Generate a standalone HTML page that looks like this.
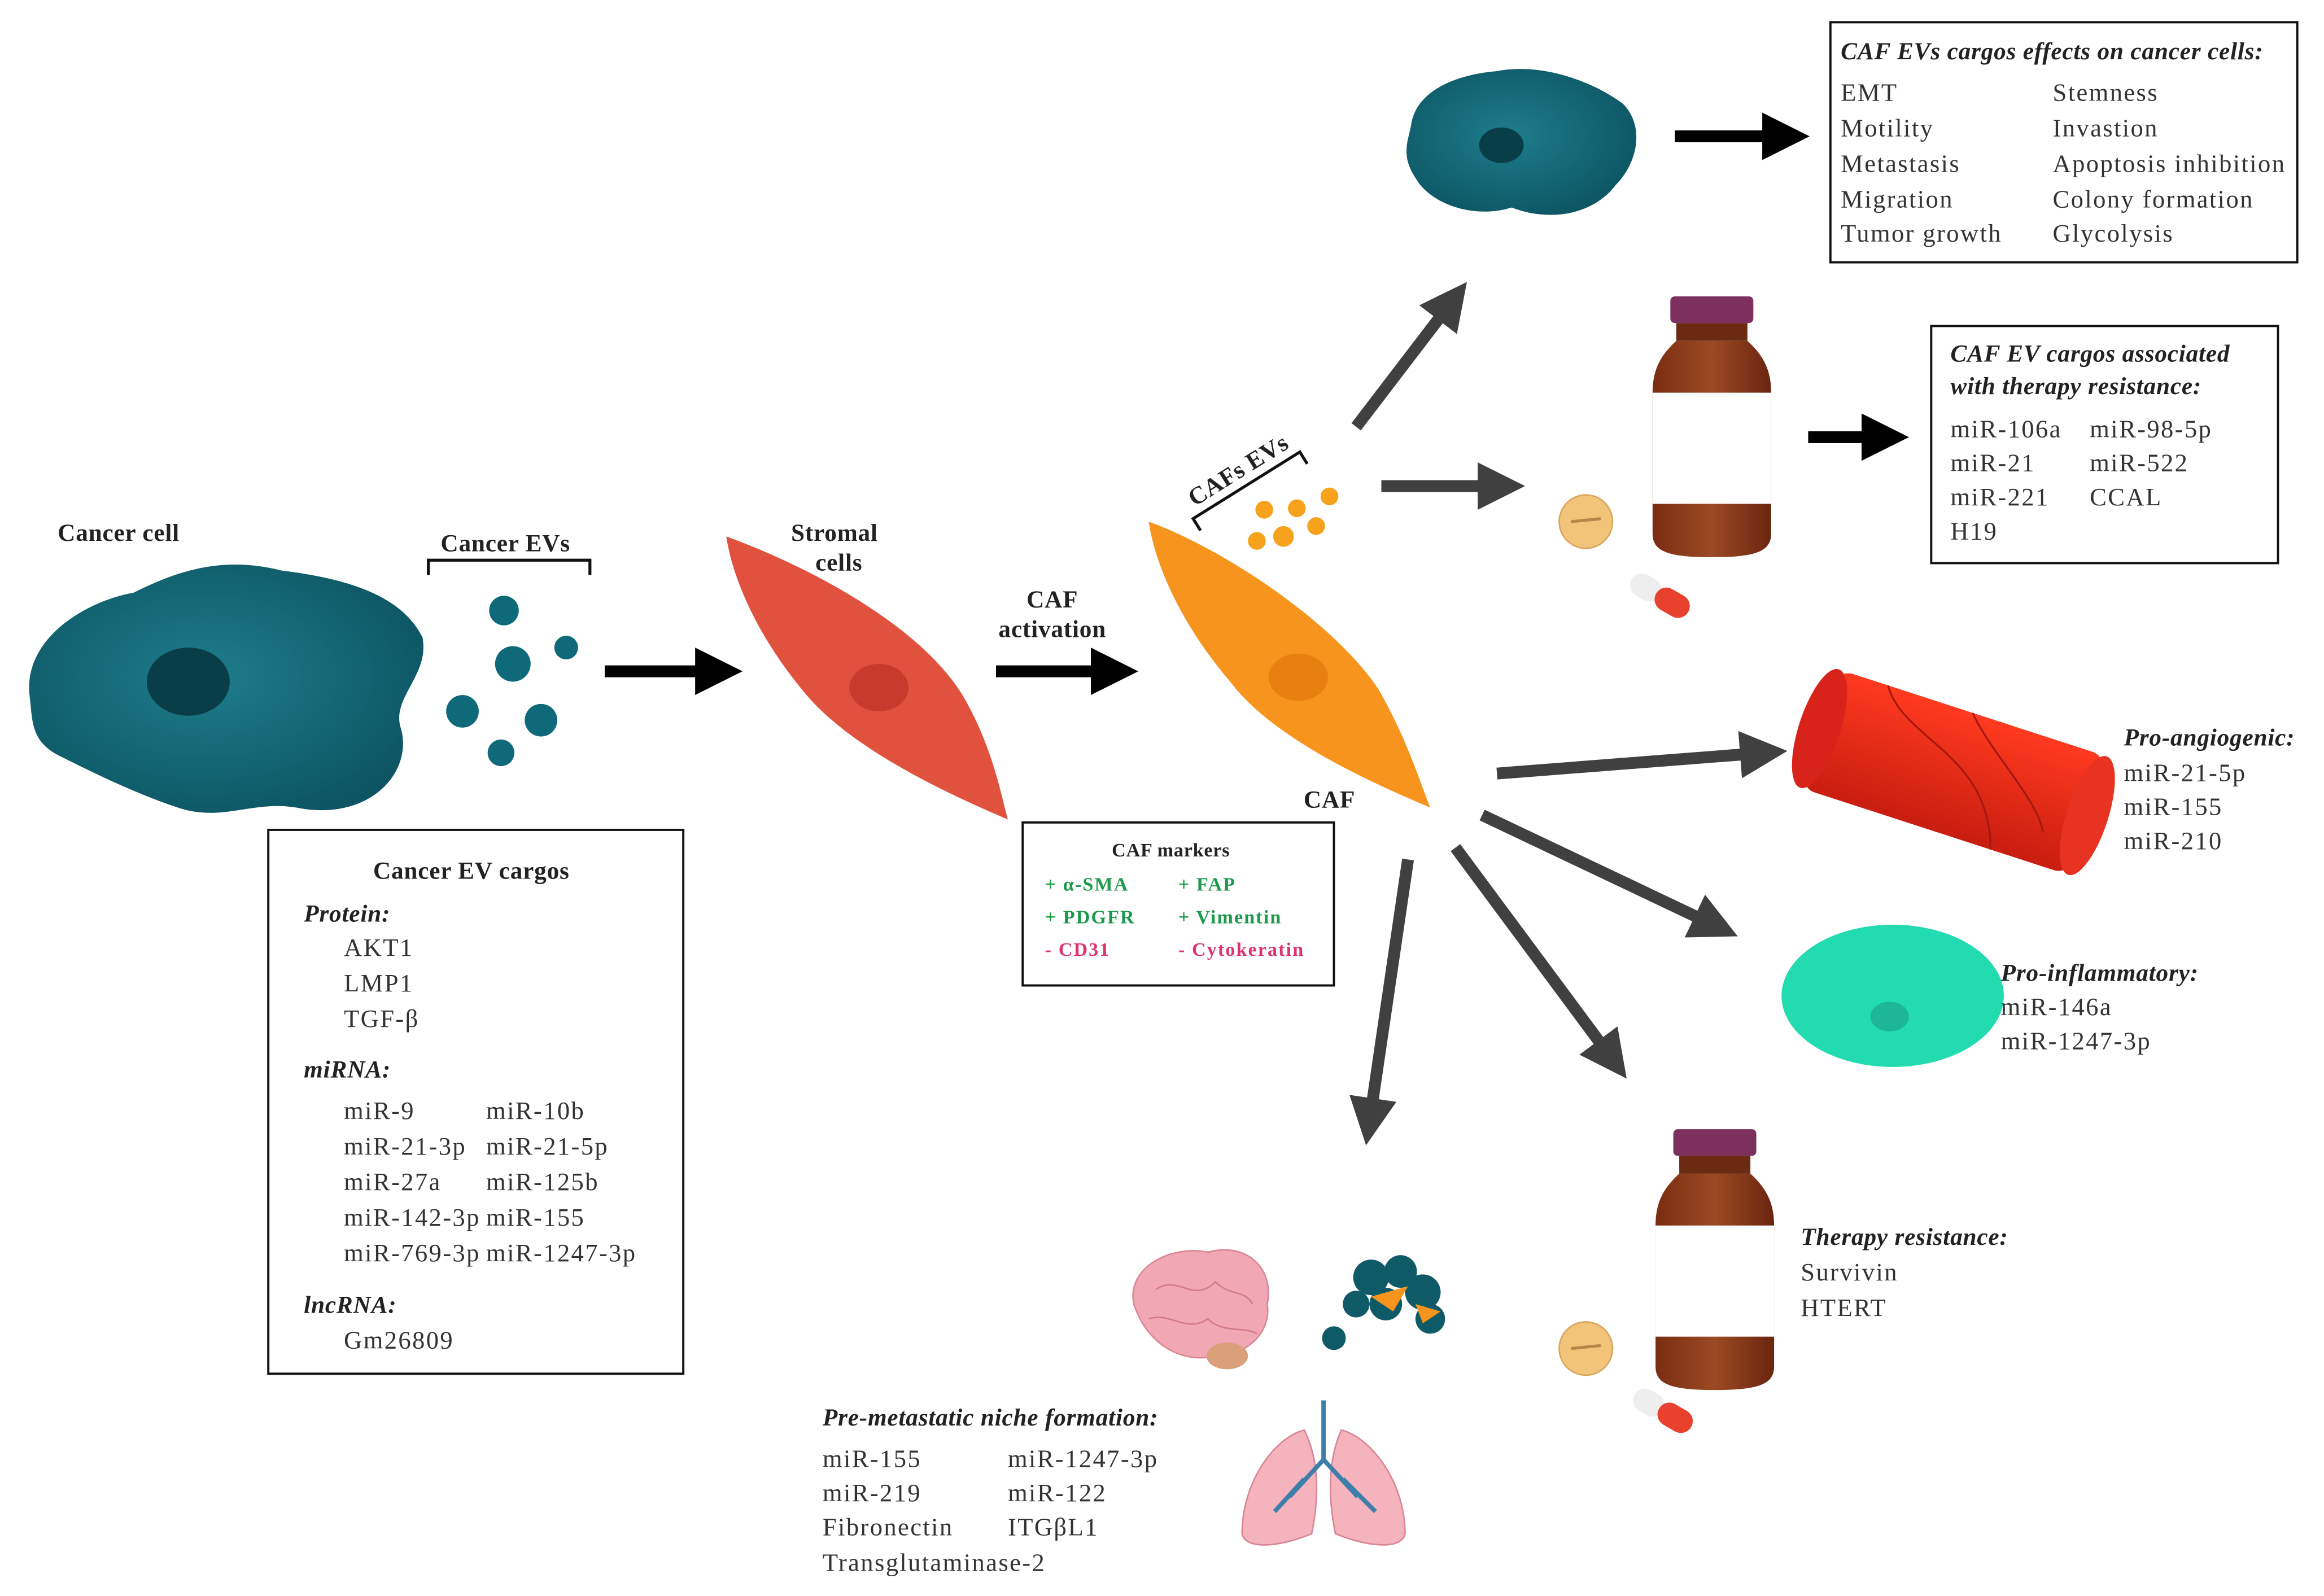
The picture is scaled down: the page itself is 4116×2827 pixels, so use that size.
<!DOCTYPE html>
<html><head><meta charset="utf-8"><style>
html,body{margin:0;padding:0;background:#fff;}
svg{display:block;}
text{font-family:"Liberation Serif",serif;font-size:17px;letter-spacing:0.9px;fill:#333;}
.b{font-weight:bold;fill:#222;letter-spacing:0.3px;font-size:16.5px;}
.bi{font-weight:bold;font-style:italic;fill:#222;letter-spacing:0.3px;font-size:16.5px;}
.g{fill:#1a9a4a;font-weight:bold;font-size:13px;letter-spacing:0.8px;}
.p{fill:#e0336e;font-weight:bold;font-size:13px;letter-spacing:0.8px;}
</style></head><body>
<svg width="4116" height="2827" viewBox="0 0 1568 1077" xmlns="http://www.w3.org/2000/svg">
<defs>
<marker id="ab" markerWidth="4" markerHeight="4" refX="2" refY="2" orient="auto" markerUnits="strokeWidth"><path d="M0,0 L4,2 L0,4 Z" fill="#000"/></marker>
<marker id="ag" markerWidth="4" markerHeight="4" refX="2" refY="2" orient="auto" markerUnits="strokeWidth"><path d="M0,0 L4,2 L0,4 Z" fill="#404040"/></marker>
<radialGradient id="teal" cx="0.45" cy="0.45" r="0.6"><stop offset="0" stop-color="#1e7d8c"/><stop offset="1" stop-color="#0d5563"/></radialGradient>
<linearGradient id="brown" x1="0" x2="1"><stop offset="0" stop-color="#7a2d12"/><stop offset="0.5" stop-color="#9b4a22"/><stop offset="1" stop-color="#6b2510"/></linearGradient>
<linearGradient id="red" x1="0" y1="0" x2="0" y2="1"><stop offset="0" stop-color="#ff3a1f"/><stop offset="1" stop-color="#c81d10"/></linearGradient>
</defs>

<path d="M20,470 C15,430 60,405 90,400 C120,385 150,375 190,385 C230,390 270,400 285,430 C290,455 265,470 270,490 C280,520 250,555 200,545 C170,540 150,555 120,545 C90,535 60,520 40,510 C20,500 22,485 20,470 Z" fill="url(#teal)"/>
<ellipse cx="127" cy="460" rx="28" ry="23" fill="#093d48"/>
<text x="80" y="365" class="b" text-anchor="middle">Cancer cell</text>
<text x="341" y="372" class="b" text-anchor="middle">Cancer EVs</text>
<path d="M289,388 V378 H398 V388" fill="none" stroke="#111" stroke-width="2"/>
<g fill="#0e6a78">
<circle cx="340" cy="412" r="10"/><circle cx="382" cy="437" r="8"/><circle cx="346" cy="448" r="12"/>
<circle cx="312" cy="480" r="11"/><circle cx="365" cy="486" r="11"/><circle cx="338" cy="508" r="9"/></g>
<line x1="408" y1="453" x2="485" y2="453" stroke="#000" stroke-width="8" marker-end="url(#ab)"/>

<path d="M490,362 C540,380 620,420 650,470 C670,505 675,535 680,553 C650,540 580,510 545,470 C515,435 495,395 490,362 Z" fill="#e0523e"/>
<ellipse cx="593" cy="464" rx="20" ry="16" fill="#c83a2c"/>
<text x="563" y="365" class="b" text-anchor="middle">Stromal</text>
<text x="566" y="385" class="b" text-anchor="middle">cells</text>
<text x="710" y="410" class="b" text-anchor="middle">CAF</text>
<text x="710" y="430" class="b" text-anchor="middle">activation</text>
<line x1="672" y1="453" x2="752" y2="453" stroke="#000" stroke-width="8" marker-end="url(#ab)"/>

<path d="M775,352 C825,370 900,420 930,465 C950,500 958,528 965,545 C930,530 860,500 830,460 C800,425 780,385 775,352 Z" fill="#f7941d"/>
<ellipse cx="876" cy="457" rx="20" ry="16" fill="#e7800f"/>
<text x="897" y="545" class="b" text-anchor="middle">CAF</text>
<text x="0" y="0" class="b" transform="translate(806,342) rotate(-32)">CAFs EVs</text>
<path d="M810,358 L805,350 L877,305 L882,313" fill="none" stroke="#111" stroke-width="2"/>
<g fill="#f7a21d">
<circle cx="853" cy="344" r="6"/><circle cx="875" cy="343" r="6"/><circle cx="897" cy="335" r="6"/>
<circle cx="848" cy="365" r="6"/><circle cx="866" cy="362" r="7"/><circle cx="888" cy="355" r="6"/></g>

<rect x="690" y="555" width="210" height="110" fill="#fff" stroke="#111" stroke-width="1.5"/>
<text x="790" y="578" class="b" text-anchor="middle" style="font-size:13px">CAF markers</text>
<text x="705" y="601" class="g">+ α-SMA</text><text x="795" y="601" class="g">+ FAP</text>
<text x="705" y="623" class="g">+ PDGFR</text><text x="795" y="623" class="g">+ Vimentin</text>
<text x="705" y="645" class="p">-  CD31</text><text x="795" y="645" class="p">-  Cytokeratin</text>

<rect x="181" y="560" width="280" height="367" fill="#fff" stroke="#111" stroke-width="1.5"/>
<text x="318" y="593" class="b" text-anchor="middle">Cancer EV cargos</text>
<text x="205" y="622" class="bi">Protein:</text>
<text x="232" y="645">AKT1</text><text x="232" y="669">LMP1</text><text x="232" y="693">TGF-β</text>
<text x="205" y="727" class="bi">miRNA:</text>
<text x="232" y="755">miR-9</text><text x="328" y="755">miR-10b</text>
<text x="232" y="779">miR-21-3p</text><text x="328" y="779">miR-21-5p</text>
<text x="232" y="803">miR-27a</text><text x="328" y="803">miR-125b</text>
<text x="232" y="827">miR-142-3p</text><text x="328" y="827">miR-155</text>
<text x="232" y="851">miR-769-3p</text><text x="328" y="851">miR-1247-3p</text>
<text x="205" y="886" class="bi">lncRNA:</text>
<text x="232" y="910">Gm26809</text>

<g stroke="#404040" stroke-width="8">
<line x1="915" y1="288" x2="980" y2="203" marker-end="url(#ag)"/>
<line x1="932" y1="328" x2="1013" y2="328" marker-end="url(#ag)"/>
<line x1="1010" y1="522" x2="1190" y2="508" marker-end="url(#ag)"/>
<line x1="1000" y1="550" x2="1158" y2="625" marker-end="url(#ag)"/>
<line x1="982" y1="572" x2="1088" y2="715" marker-end="url(#ag)"/>
<line x1="950" y1="580" x2="924" y2="757" marker-end="url(#ag)"/>
</g>

<path d="M952,85 C955,60 985,50 1010,48 C1040,42 1075,55 1095,70 C1110,85 1105,110 1090,125 C1075,145 1045,150 1020,140 C995,148 965,138 955,120 C945,105 950,95 952,85 Z" fill="url(#teal)"/>
<ellipse cx="1013" cy="98" rx="15" ry="12" fill="#093d48"/>
<line x1="1130" y1="92" x2="1205" y2="92" stroke="#000" stroke-width="8" marker-end="url(#ab)"/>
<rect x="1235" y="15" width="315" height="162" fill="#fff" stroke="#111" stroke-width="1.5"/>
<text x="1242" y="40" class="bi">CAF EVs cargos effects on cancer cells:</text>
<text x="1242" y="68">EMT</text><text x="1385" y="68">Stemness</text>
<text x="1242" y="92">Motility</text><text x="1385" y="92">Invastion</text>
<text x="1242" y="116">Metastasis</text><text x="1385" y="116">Apoptosis inhibition</text>
<text x="1242" y="140">Migration</text><text x="1385" y="140">Colony formation</text>
<text x="1242" y="163">Tumor growth</text><text x="1385" y="163">Glycolysis</text>

<g>
<rect x="1127" y="200" width="56" height="18" rx="3" fill="#7d2f5e"/>
<rect x="1131" y="218" width="48" height="12" fill="#6b2a12"/>
<path d="M1131,230 C1120,240 1115,250 1115,265 V360 C1115,372 1125,376 1155,376 C1185,376 1195,372 1195,360 V265 C1195,250 1190,240 1179,230 Z" fill="url(#brown)"/>
<rect x="1115" y="265" width="80" height="75" fill="#fff"/>
<circle cx="1070" cy="352" r="18" fill="#f1c47a" stroke="#d9a55a"/>
<line x1="1060" y1="352" x2="1080" y2="350" stroke="#b5864a" stroke-width="2"/>
<g transform="translate(1120,402) rotate(30)"><rect x="-22" y="-8" width="22" height="16" rx="8" fill="#eee"/><rect x="-3" y="-8" width="25" height="16" rx="8" fill="#e8412e"/></g>
</g>
<line x1="1220" y1="295" x2="1272" y2="295" stroke="#000" stroke-width="8" marker-end="url(#ab)"/>
<rect x="1303" y="220" width="234" height="160" fill="#fff" stroke="#111" stroke-width="1.5"/>
<text x="1316" y="244" class="bi">CAF EV cargos associated</text>
<text x="1316" y="266" class="bi">with therapy resistance:</text>
<text x="1316" y="295">miR-106a</text><text x="1410" y="295">miR-98-5p</text>
<text x="1316" y="318">miR-21</text><text x="1410" y="318">miR-522</text>
<text x="1316" y="341">miR-221</text><text x="1410" y="341">CCAL</text>
<text x="1316" y="364">H19</text>

<g transform="translate(1318,521) rotate(18)">
<rect x="-95" y="-42" width="190" height="84" rx="10" fill="url(#red)"/>
<ellipse cx="-95" cy="0" rx="14" ry="42" fill="#d8231a"/>
<ellipse cx="95" cy="0" rx="14" ry="42" fill="#e83322"/>
<path d="M-60,-42 C-40,-10 20,-20 40,42 M0,-42 C20,-20 60,0 70,20" stroke="#a01810" fill="none" stroke-width="1.2"/>
</g>
<text x="1433" y="503" class="bi">Pro-angiogenic:</text>
<text x="1433" y="527">miR-21-5p</text><text x="1433" y="550">miR-155</text><text x="1433" y="573">miR-210</text>

<ellipse cx="1277" cy="672" rx="75" ry="48" fill="#22dcb0"/>
<ellipse cx="1275" cy="686" rx="13" ry="10" fill="#1db696"/>
<text x="1350" y="662" class="bi">Pro-inflammatory:</text>
<text x="1350" y="685">miR-146a</text><text x="1350" y="708">miR-1247-3p</text>

<g transform="translate(2,562)">
<rect x="1127" y="200" width="56" height="18" rx="3" fill="#7d2f5e"/>
<rect x="1131" y="218" width="48" height="12" fill="#6b2a12"/>
<path d="M1131,230 C1120,240 1115,250 1115,265 V360 C1115,372 1125,376 1155,376 C1185,376 1195,372 1195,360 V265 C1195,250 1190,240 1179,230 Z" fill="url(#brown)"/>
<rect x="1115" y="265" width="80" height="75" fill="#fff"/>
<circle cx="1068" cy="348" r="18" fill="#f1c47a" stroke="#d9a55a"/>
<line x1="1058" y1="348" x2="1078" y2="346" stroke="#b5864a" stroke-width="2"/>
<g transform="translate(1120,390) rotate(30)"><rect x="-22" y="-8" width="22" height="16" rx="8" fill="#eee"/><rect x="-3" y="-8" width="25" height="16" rx="8" fill="#e8412e"/></g>
</g>
<text x="1215" y="840" class="bi">Therapy resistance:</text>
<text x="1215" y="864">Survivin</text><text x="1215" y="888">HTERT</text>

<path d="M765,880 C760,855 790,840 815,845 C840,838 860,855 855,880 C858,900 840,915 820,915 C800,920 775,910 765,880 Z" fill="#f2a7b4" stroke="#d98596"/>
<path d="M780,870 C795,860 805,880 820,865 C830,875 840,870 845,880 M775,890 C790,885 800,900 815,890 C825,900 840,895 848,900" stroke="#d27a8c" fill="none"/>
<ellipse cx="828" cy="915" rx="14" ry="9" fill="#d9a07a"/>
<g fill="#0e5a66">
<circle cx="925" cy="862" r="12"/><circle cx="945" cy="858" r="11"/><circle cx="960" cy="872" r="12"/><circle cx="935" cy="880" r="11"/><circle cx="965" cy="890" r="10"/><circle cx="915" cy="880" r="9"/><circle cx="900" cy="903" r="8"/></g>
<path d="M925,875 L950,868 L940,885 Z" fill="#f7941d"/><path d="M955,880 L972,885 L960,893 Z" fill="#f7941d"/>
<path d="M880,965 C860,970 838,1000 838,1035 C840,1045 860,1045 885,1035 C890,1010 890,985 880,965 Z" fill="#f5b3bd" stroke="#d98596"/>
<path d="M905,965 C925,970 948,1000 948,1035 C946,1045 926,1045 901,1035 C896,1010 896,985 905,965 Z" fill="#f5b3bd" stroke="#d98596"/>
<path d="M893,945 V985 M893,985 L870,1010 M893,985 L916,1010 M880,998 L860,1020 M906,998 L928,1020" stroke="#3d7fa8" stroke-width="3" fill="none"/>
<text x="555" y="962" class="bi">Pre-metastatic niche formation:</text>
<text x="555" y="990">miR-155</text><text x="680" y="990">miR-1247-3p</text>
<text x="555" y="1013">miR-219</text><text x="680" y="1013">miR-122</text>
<text x="555" y="1036">Fibronectin</text><text x="680" y="1036">ITGβL1</text>
<text x="555" y="1060">Transglutaminase-2</text>
</svg>
</body></html>
